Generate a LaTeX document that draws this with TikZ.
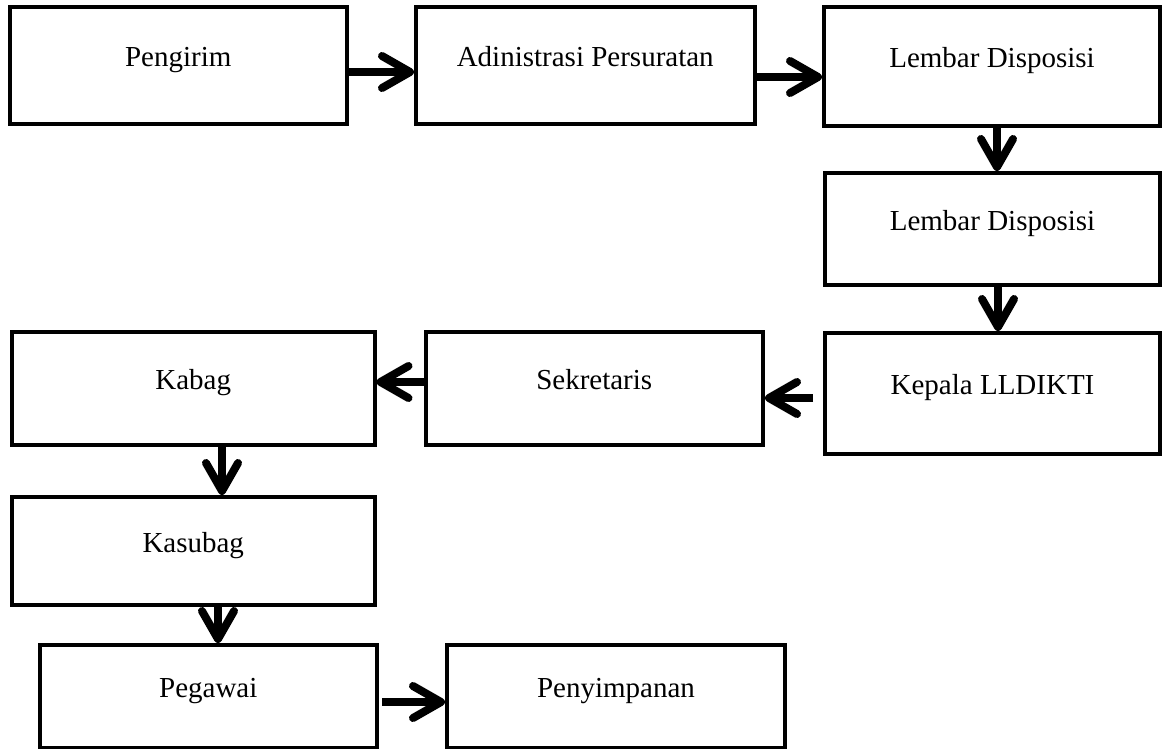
\documentclass[tikz,border=0pt]{standalone}
\usepackage{fontspec}
\setmainfont{Liberation Serif}
\usepackage{tikz}
\usetikzlibrary{arrows.meta}

\begin{document}
\begin{tikzpicture}[x=1pt, y=-1pt,
		box/.style={draw, line width=4pt, inner sep=0pt, font=\fontsize{29}{34}\selectfont, text height=0.7em, text depth=0.48em},
		flow/.style={line width=8pt, -{Straight Barb[length=28pt, width=32pt, round]}}]
				
				\useasboundingbox (0,0) rectangle (1162,749);
				
				\node[box, minimum width=337.5pt, minimum height=116.5pt] (pengirim) at (178.25,65.75) {Pengirim};
				\node[box, minimum width=338.5pt, minimum height=116.5pt] (admin) at (585.25,65.75) {Adinistrasi Persuratan};
				\node[box, minimum width=336pt, minimum height=118.5pt] (lembarA) at (992,66.75) {Lembar Disposisi};
				\node[box, minimum width=335pt, minimum height=112pt] (lembarB) at (992.5,229) {Lembar Disposisi};
				\node[box, minimum width=335pt, minimum height=121pt] (kepala) at (992.5,393.5) {Kepala LLDIKTI};
				\node[box, minimum width=337.5pt, minimum height=113pt] (sekretaris) at (594.25,388.5) {Sekretaris};
				\node[box, minimum width=362.5pt, minimum height=113pt] (kabag) at (193.25,388.5) {Kabag};
				\node[box, minimum width=362.5pt, minimum height=108pt] (kasubag) at (193.25,551) {Kasubag};
				\node[box, minimum width=337.5pt, minimum height=103pt] (pegawai) at (208.25,696.5) {Pegawai};
				\node[box, minimum width=338pt, minimum height=103pt] (penyimpanan) at (616,696.5) {Penyimpanan};
				
				
				\draw[flow] (pengirim.east |- 0,72) -- (admin.west |- 0,72);
				\draw[flow] (admin.east |- 0,77) -- (lembarA.west |- 0,77);
				\draw[flow] (lembarA.south -| 997,0) -- (lembarB.north -| 997,0);
				\draw[flow] (lembarB.south -| 998,0) -- (kepala.north -| 998,0);
				\draw[flow, shorten <=10pt] (kepala.west |- 0,398) -- (sekretaris.east |- 0,398);
				\draw[flow] (sekretaris.west |- 0,382) -- (kabag.east |- 0,382);
				\draw[flow] (kabag.south -| 222,0) -- (kasubag.north -| 222,0);
				\draw[flow] (kasubag.south -| 218,0) -- (pegawai.north -| 218,0);
				\draw[flow, shorten <=3pt] (pegawai.east |- 0,702) -- (penyimpanan.west |- 0,702);
				
\end{tikzpicture}
\end{document}
